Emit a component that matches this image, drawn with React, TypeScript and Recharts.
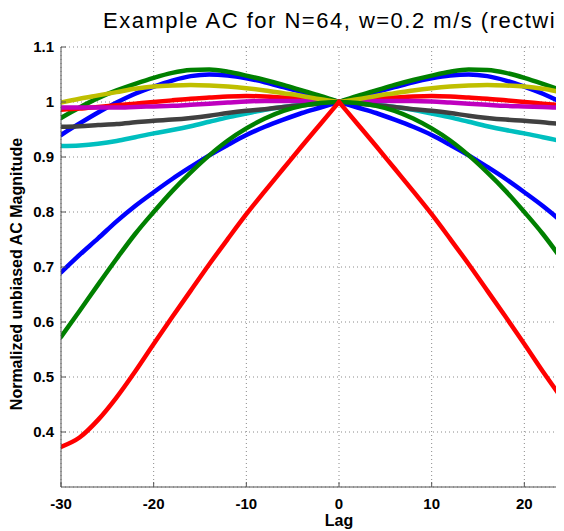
import React from 'react';
import { LineChart, Line, XAxis, YAxis, CartesianGrid } from 'recharts';

const FONT = '"Liberation Sans", Arial, Helvetica, sans-serif';

const titleText = 'Example AC for N=64, w=0.2 m/s (rectwin)';
const xLabel = 'Lag';
const yLabel = 'Normalized unbiased AC Magnitude';

const lags = [-30, -28, -26, -24, -22, -20, -18, -16, -14, -12, -10, -8, -6, -4, -2, 0, 2, 4, 6, 8, 10, 12, 14, 16, 18, 20, 22, 24, 26, 28, 30];

const acBlue1 = [0.940, 0.961, 0.981, 0.999, 1.015, 1.028, 1.039, 1.047, 1.050, 1.048, 1.043, 1.036, 1.027, 1.018, 1.009, 1.000, 1.009, 1.018, 1.027, 1.036, 1.043, 1.048, 1.050, 1.047, 1.039, 1.028, 1.015, 0.999, 0.981, 0.961, 0.940];
const acGreen2 = [0.971, 0.990, 1.007, 1.021, 1.033, 1.044, 1.053, 1.058, 1.059, 1.055, 1.048, 1.040, 1.031, 1.021, 1.011, 1.000, 1.011, 1.021, 1.031, 1.040, 1.048, 1.055, 1.059, 1.058, 1.053, 1.044, 1.033, 1.021, 1.007, 0.990, 0.971];
const acRed3 = [0.986, 0.988, 0.991, 0.994, 0.997, 1.000, 1.003, 1.006, 1.008, 1.010, 1.011, 1.010, 1.008, 1.006, 1.003, 1.000, 1.003, 1.006, 1.008, 1.010, 1.011, 1.010, 1.008, 1.006, 1.003, 1.000, 0.997, 0.994, 0.991, 0.988, 0.986];
const acCyan4 = [0.920, 0.921, 0.924, 0.929, 0.936, 0.943, 0.949, 0.956, 0.964, 0.972, 0.979, 0.986, 0.991, 0.995, 0.998, 1.000, 0.998, 0.995, 0.991, 0.986, 0.979, 0.972, 0.964, 0.956, 0.949, 0.943, 0.936, 0.929, 0.924, 0.921, 0.920];
const acMagenta5 = [0.990, 0.990, 0.990, 0.990, 0.991, 0.992, 0.993, 0.995, 0.997, 0.999, 1.001, 1.002, 1.002, 1.002, 1.001, 1.000, 1.001, 1.002, 1.002, 1.002, 1.001, 0.999, 0.997, 0.995, 0.993, 0.992, 0.991, 0.990, 0.990, 0.990, 0.990];
const acYellow6 = [0.999, 1.006, 1.012, 1.018, 1.024, 1.028, 1.030, 1.031, 1.030, 1.028, 1.025, 1.021, 1.016, 1.011, 1.005, 1.000, 1.005, 1.011, 1.016, 1.021, 1.025, 1.028, 1.030, 1.031, 1.030, 1.028, 1.024, 1.018, 1.012, 1.006, 0.999];
const acGray7 = [0.955, 0.956, 0.958, 0.960, 0.963, 0.966, 0.968, 0.971, 0.975, 0.980, 0.984, 0.987, 0.991, 0.994, 0.997, 1.000, 0.997, 0.994, 0.991, 0.987, 0.984, 0.980, 0.975, 0.971, 0.968, 0.966, 0.963, 0.960, 0.958, 0.956, 0.955];
const acBlue8 = [0.690, 0.722, 0.752, 0.783, 0.811, 0.836, 0.860, 0.882, 0.903, 0.922, 0.940, 0.955, 0.968, 0.980, 0.990, 1.000, 0.990, 0.980, 0.968, 0.955, 0.940, 0.922, 0.903, 0.882, 0.860, 0.836, 0.811, 0.783, 0.752, 0.722, 0.690];
const acGreen9 = [0.573, 0.620, 0.668, 0.715, 0.760, 0.800, 0.838, 0.872, 0.903, 0.930, 0.952, 0.970, 0.984, 0.993, 0.998, 1.000, 0.998, 0.993, 0.984, 0.970, 0.952, 0.930, 0.903, 0.872, 0.838, 0.800, 0.760, 0.715, 0.668, 0.620, 0.573];
const acRed10 = [0.373, 0.390, 0.422, 0.463, 0.510, 0.560, 0.609, 0.657, 0.705, 0.751, 0.796, 0.838, 0.879, 0.920, 0.960, 1.000, 0.960, 0.920, 0.879, 0.838, 0.796, 0.751, 0.705, 0.657, 0.609, 0.560, 0.510, 0.463, 0.422, 0.390, 0.373];

const xTicks = [-30, -20, -10, 0, 10, 20, 30];
const yTicks = [0.4, 0.5, 0.6, 0.7, 0.8, 0.9, 1, 1.1];

const seriesList = [
  { key: 's1', values: acBlue1, color: '#0000FF' },
  { key: 's2', values: acGreen2, color: '#008000' },
  { key: 's3', values: acRed3, color: '#FF0000' },
  { key: 's4', values: acCyan4, color: '#00BFBF' },
  { key: 's5', values: acMagenta5, color: '#BF00BF' },
  { key: 's6', values: acYellow6, color: '#BFBF00' },
  { key: 's7', values: acGray7, color: '#404040' },
  { key: 's8', values: acBlue8, color: '#0000FF' },
  { key: 's9', values: acGreen9, color: '#008000' },
  { key: 's10', values: acRed10, color: '#FF0000' },
];

// each curve is drawn as two branches (negative and positive lags) so the peak at lag 0 stays sharp
const data = lags.map((lag, i) => {
  const row: Record<string, number | null> = { lag };
  seriesList.forEach((s) => {
    row[s.key + 'L'] = lag <= 0 ? s.values[i] : null;
    row[s.key + 'R'] = lag >= 0 ? s.values[i] : null;
  });
  return row;
});

const AXIS = '#555555';

const XTick = (props: any) => {
  const { x, y, payload } = props;
  return (
    <g>
      <line x1={x} x2={x} y1={y} y2={y - 5} stroke={AXIS} strokeWidth={1} />
      <text x={x} y={y + 22} textAnchor="middle" fontFamily={FONT} fontWeight="bold" fontSize={15} fill="#000">
        {payload.value}
      </text>
    </g>
  );
};

const TopTick = (props: any) => {
  const { x, y } = props;
  return <line x1={x} x2={x} y1={y} y2={y + 5} stroke={AXIS} strokeWidth={1} />;
};

const YTick = (props: any) => {
  const { x, y, payload } = props;
  return (
    <g>
      <line x1={x} x2={x + 5} y1={y} y2={y} stroke={AXIS} strokeWidth={1} />
      <text x={x - 7} y={y + 5} textAnchor="end" fontFamily={FONT} fontWeight="bold" fontSize={15} fill="#000">
        {String(payload.value)}
      </text>
    </g>
  );
};

export default function App() {
  return (
    <div style={{ width: 556, height: 523, overflow: 'hidden' }}>
      <LineChart width={640} height={523} data={data} margin={{ top: 39, right: 31, bottom: 0, left: 0 }}>
        <CartesianGrid stroke="#8a8a8a" strokeDasharray="1 3" />
        <XAxis
          dataKey="lag"
          type="number"
          domain={[-30, 30]}
          ticks={xTicks}
          interval={0}
          height={44}
          tickSize={0}
          tickMargin={0}
          tickLine={false}
          axisLine={{ stroke: AXIS, strokeWidth: 1 }}
          tick={<XTick />}
          allowDataOverflow
        />
        <XAxis
          xAxisId="top"
          orientation="top"
          dataKey="lag"
          type="number"
          domain={[-30, 30]}
          ticks={xTicks}
          interval={0}
          height={0}
          tickSize={0}
          tickMargin={0}
          tickLine={false}
          axisLine={{ stroke: AXIS, strokeWidth: 1 }}
          tick={<TopTick />}
          allowDataOverflow
        />
        <YAxis
          type="number"
          domain={[0.3, 1.1]}
          ticks={yTicks}
          interval={0}
          width={53}
          tickSize={0}
          tickMargin={0}
          tickLine={false}
          axisLine={{ stroke: AXIS, strokeWidth: 1 }}
          tick={<YTick />}
          allowDataOverflow
        />
        {seriesList.flatMap((s) =>
          ['L', 'R'].map((side) => (
            <Line
              key={s.key + side}
              dataKey={s.key + side}
              type="monotone"
              stroke={s.color}
              strokeWidth={4.5}
              dot={false}
              activeDot={false}
              connectNulls={false}
              isAnimationActive={false}
              strokeLinejoin="round"
              strokeLinecap="round"
            />
          ))
        )}
        <text x={95} y={20} fontFamily={FONT} fontSize={22} letterSpacing={1.5} fill="#000">
          {titleText}
        </text>
        <text x={331} y={518} textAnchor="middle" fontFamily={FONT} fontWeight="bold" fontSize={16} fill="#000">
          {xLabel}
        </text>
        <text
          transform="translate(14, 266) rotate(-90)"
          textAnchor="middle"
          fontFamily={FONT}
          fontWeight="bold"
          fontSize={16}
          fill="#000"
        >
          {yLabel}
        </text>
      </LineChart>
    </div>
  );
}
